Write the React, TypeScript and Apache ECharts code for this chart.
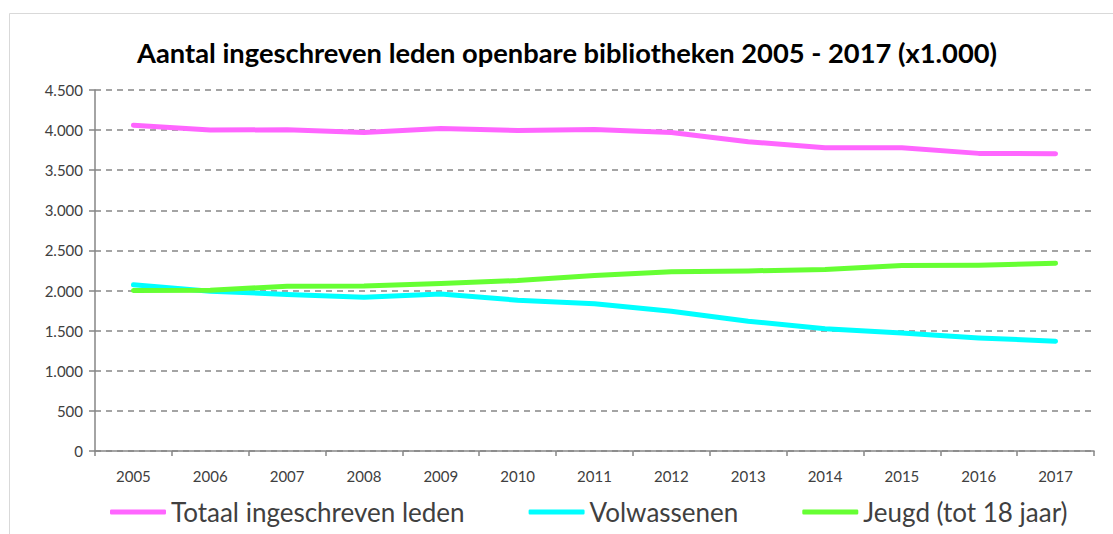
import React, { useEffect, useRef } from "react";
import * as echarts from "echarts";

const years = ["2005", "2006", "2007", "2008", "2009", "2010", "2011", "2012", "2013", "2014", "2015", "2016", "2017"];
const totaal = [4062, 4000, 4005, 3970, 4020, 3995, 4008, 3970, 3855, 3780, 3780, 3710, 3705];
const volwassenen = [2071, 1992, 1952, 1917, 1958, 1880, 1836, 1742, 1618, 1525, 1472, 1410, 1368];
const jeugd = [2000, 2004, 2054, 2058, 2087, 2125, 2187, 2233, 2245, 2262, 2312, 2316, 2341];
const seriesNames = ["Totaal ingeschreven leden", "Volwassenen", "Jeugd (tot 18 jaar)"];
const colors = ["#FF66FF", "#00FFFF", "#66FF33"];
const title = "Aantal ingeschreven leden openbare bibliotheken 2005 - 2017 (x1.000)";

const FONT = "Lato";

export default function App() {
  const ref = useRef<HTMLDivElement>(null);
  useEffect(() => {
    if (!ref.current) return;
    const chart = echarts.init(ref.current, undefined, { renderer: "svg" });
    const data = [totaal, volwassenen, jeugd];
    chart.setOption({
      animation: false,
      backgroundColor: "#ffffff",
      title: {
        text: title,
        left: 132,
        top: 34,
        textStyle: { fontFamily: FONT, fontWeight: "bold", fontSize: 27.3, color: "#000000" },
      },
      graphic: [
        { type: "line", shape: { x1: 9.5, y1: 13.5, x2: 1113, y2: 13.5 }, style: { stroke: "#d9d9d9", lineWidth: 1 } },
        { type: "line", shape: { x1: 9.5, y1: 13.5, x2: 9.5, y2: 534 }, style: { stroke: "#d9d9d9", lineWidth: 1 } },
      ],
      legend: {
        bottom: 9,
        left: 110,
        padding: 0,
        icon: "roundRect",
        itemWidth: 56,
        itemHeight: 5,
        itemGap: 64,
        textStyle: { fontFamily: FONT, fontSize: 26, color: "#404040" },
        data: seriesNames,
      },
      grid: { left: 95, right: 19, top: 90, bottom: 83 },
      xAxis: {
        type: "category",
        data: years,
        boundaryGap: true,
        axisLine: { lineStyle: { color: "#868686", width: 1.5 } },
        axisTick: { show: true, length: 5, lineStyle: { color: "#868686", width: 1.5 } },
        axisLabel: { fontFamily: FONT, fontSize: 15, color: "#404040", margin: 17 },
        splitLine: { show: false },
      },
      yAxis: {
        type: "value",
        min: 0,
        max: 4500,
        interval: 500,
        axisLine: { show: true, lineStyle: { color: "#868686", width: 1.5 } },
        axisTick: { show: true, length: 6, lineStyle: { color: "#868686", width: 1.5 } },
        axisLabel: {
          fontFamily: FONT,
          fontSize: 15,
          color: "#404040",
          margin: 12,
          formatter: (v: number) => (v >= 1000 ? `${Math.floor(v / 1000)}.${String(v % 1000).padStart(3, "0")}` : String(v)),
        },
        splitLine: { show: true, lineStyle: { color: "#868686", type: [6, 5], width: 1.5 } },
      },
      series: data.map((d, i) => ({
        name: seriesNames[i],
        type: "line",
        data: d,
        symbol: "none",
        smooth: false,
        lineStyle: { color: colors[i], width: 5, cap: "round", join: "round" },
        itemStyle: { color: colors[i] },
      })),
    });
    return () => chart.dispose();
  }, []);
  return <div ref={ref} style={{ position: "fixed", left: 0, top: 0, width: 1113, height: 534 }} />;
}
